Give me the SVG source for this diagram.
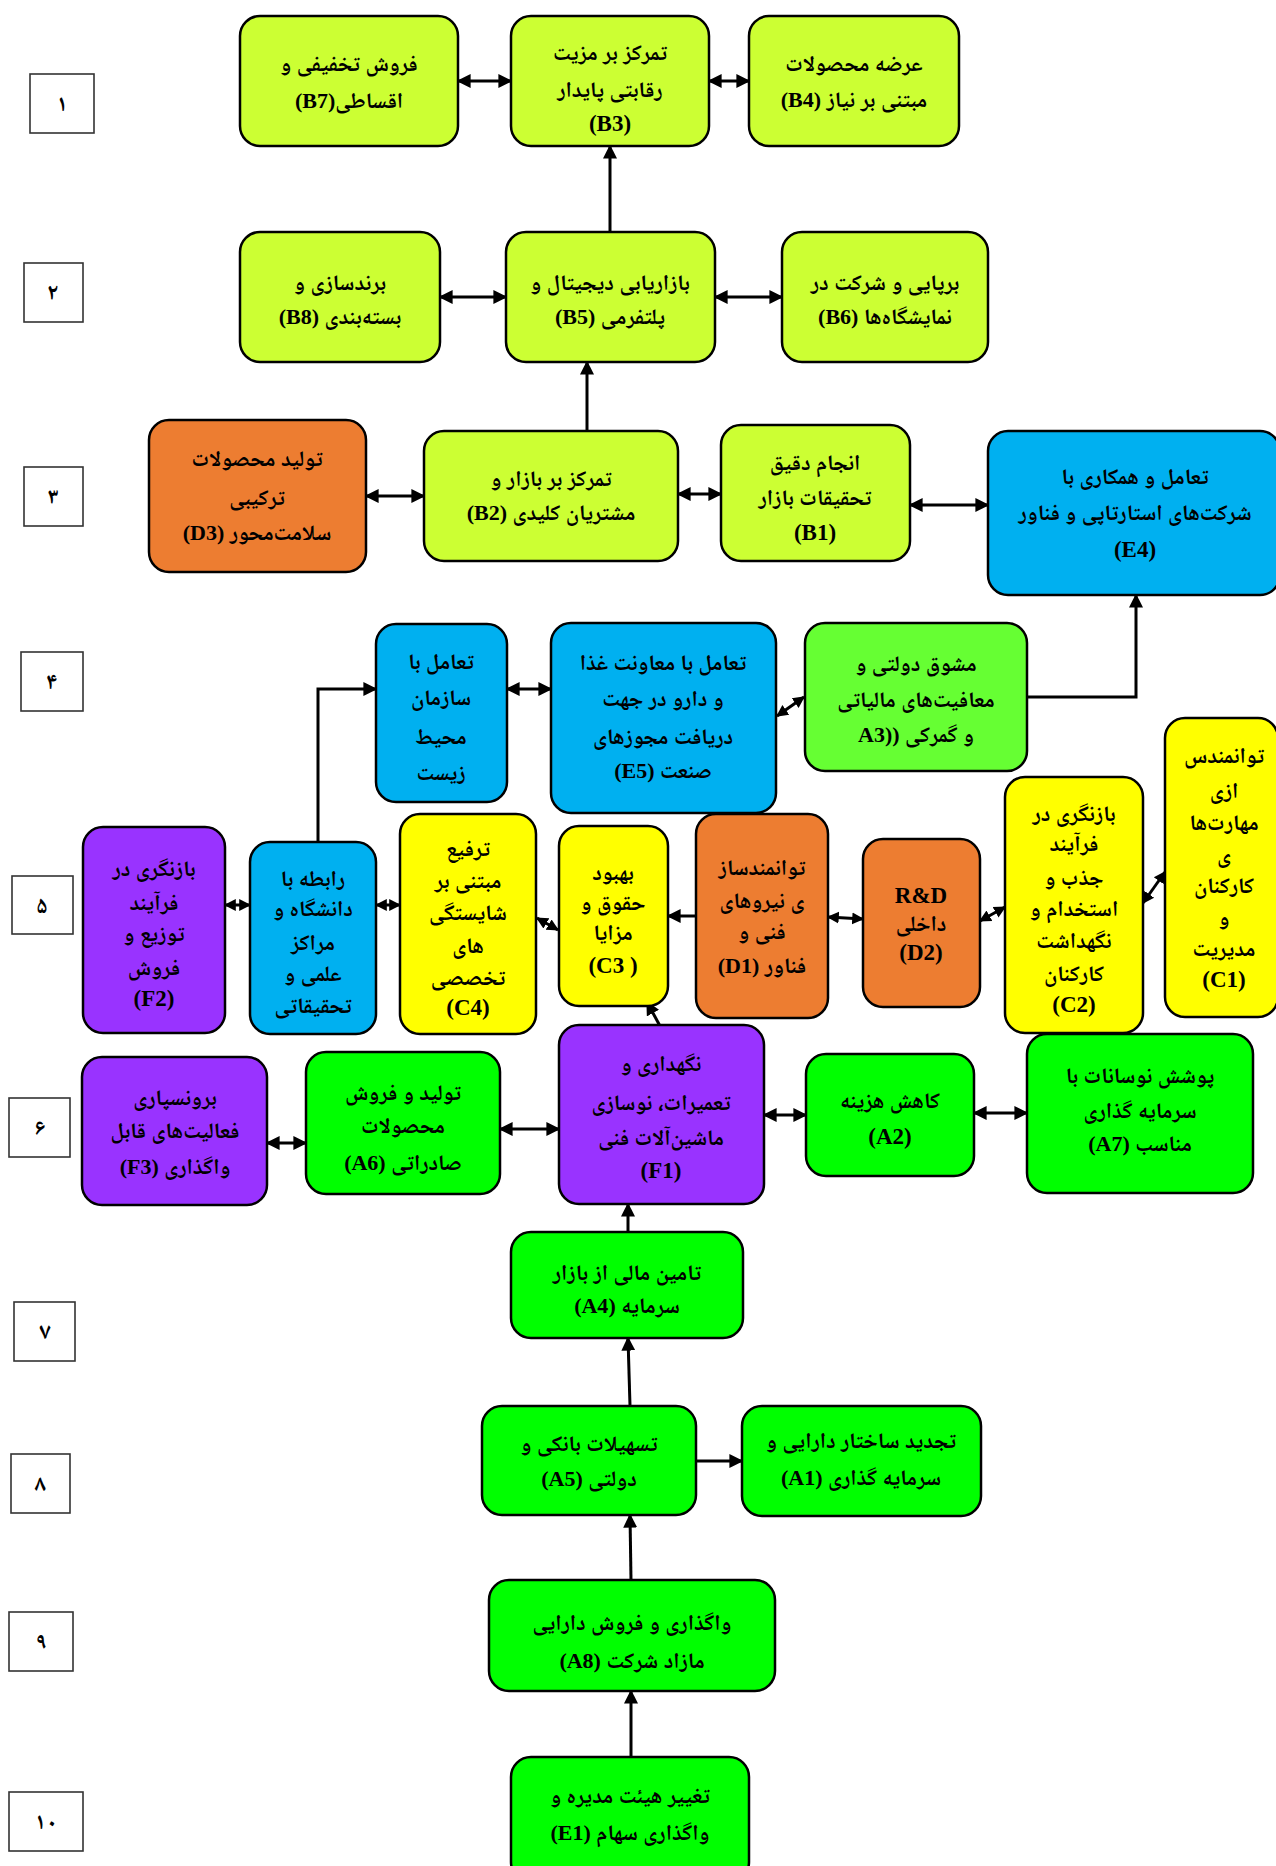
<svg xmlns="http://www.w3.org/2000/svg" width="1276" height="1866" viewBox="0 0 1276 1866">
<style>
.n rect{stroke:#000;stroke-width:2.5}
.lime{fill:#CCFF33}.org{fill:#ED7D31}.blue{fill:#00B0F0}.lg{fill:#66FF33}.grn{fill:#00FF00}.pur{fill:#9933FF}.yel{fill:#FFFF00}
text{font-family:"Liberation Serif","Noto Naskh Arabic","Noto Sans Arabic","DejaVu Sans",serif;font-weight:bold;font-size:22px;text-anchor:middle;dominant-baseline:central;fill:#000}
.r{direction:rtl}
.l{font-size:23px}
.num rect{fill:#fff;stroke:#333;stroke-width:1.6}
.num text{font-size:23px}
.c path{fill:none;stroke:#000;stroke-width:3}
.d{marker-start:url(#ah);marker-end:url(#ah)}
.s{marker-end:url(#ah)}
.ds{marker-start:url(#sm);marker-end:url(#sm)}
</style>
<defs>
<marker id="ah" viewBox="0 0 10 10" refX="9" refY="5" markerWidth="14" markerHeight="14" markerUnits="userSpaceOnUse" orient="auto-start-reverse"><path d="M0,0 L10,5 L0,10 z" fill="#000"/></marker>
<marker id="sm" viewBox="0 0 10 10" refX="9" refY="5" markerWidth="12" markerHeight="14" markerUnits="userSpaceOnUse" orient="auto-start-reverse"><path d="M0,0 L10,5 L0,10 z" fill="#000"/></marker>
</defs>
<rect width="1276" height="1866" fill="#fff"/>

<g id="levels" class="num">
<g id="lv1"><rect x="30" y="74" width="64" height="59"/><text x="62" y="103">۱</text></g>
<g id="lv2"><rect x="24" y="263" width="59" height="59"/><text x="53" y="292">۲</text></g>
<g id="lv3"><rect x="24" y="467" width="59" height="59"/><text x="53" y="496">۳</text></g>
<g id="lv4"><rect x="21" y="652" width="62" height="59"/><text x="52" y="681">۴</text></g>
<g id="lv5"><rect x="12" y="876" width="61" height="58"/><text x="42" y="905">۵</text></g>
<g id="lv6"><rect x="9" y="1098" width="61" height="59"/><text x="40" y="1127">۶</text></g>
<g id="lv7"><rect x="14" y="1302" width="61" height="59"/><text x="45" y="1331">۷</text></g>
<g id="lv8"><rect x="11" y="1454" width="59" height="59"/><text x="40" y="1483">۸</text></g>
<g id="lv9"><rect x="9" y="1612" width="64" height="59"/><text x="41" y="1641">۹</text></g>
<g id="lv10"><rect x="9" y="1792" width="74" height="59"/><text x="46" y="1821">۱۰</text></g>
</g>

<g id="connectors" class="c">
<path class="d" d="M458,81 H511"/>
<path class="d" d="M709,81 H749"/>
<path class="s" d="M610,232 V146"/>
<path class="d" d="M440,297 H506"/>
<path class="d" d="M715,297 H782"/>
<path class="s" d="M587,431 V362"/>
<path class="d" d="M366,496 H424"/>
<path class="d" d="M678,494 H721"/>
<path class="d" d="M910,505 H988"/>
<path class="s" d="M1027,697 H1136 V595"/>
<path class="s" d="M318,842 V689 H376"/>
<path class="d" d="M507,689 H551"/>
<path class="ds" d="M777,716 L804,697"/>
<path class="ds" d="M225,905 H250"/>
<path class="ds" d="M376,905 H400"/>
<path class="ds" d="M537,918 L558,930"/>
<path class="s" d="M696,916 H668"/>
<path class="ds" d="M863,919 L828,917"/>
<path class="ds" d="M1005,907 L980,921"/>
<path class="ds" d="M1165,872 L1143,903"/>
<path class="d" d="M267,1143 H306"/>
<path class="d" d="M500,1129 H559"/>
<path class="d" d="M764,1115 H806"/>
<path class="d" d="M974,1113 H1027"/>
<path class="s" d="M660,1026 L647,1002"/>
<path class="s" d="M628,1232 V1204"/>
<path class="s" d="M630,1406 L628,1338"/>
<path class="s" d="M696,1461 H742"/>
<path class="s" d="M631,1580 L630,1515"/>
<path class="s" d="M631,1757 V1691"/>
</g>

<g id="B7" class="n"><rect class="lime" x="240" y="16" width="218" height="130" rx="20"/><text class="r" x="349" y="63">فروش تخفیفی و</text><text class="r" x="349" y="100">اقساطی(B7)</text></g>
<g id="B3" class="n"><rect class="lime" x="511" y="16" width="198" height="130" rx="20"/><text class="r" x="610" y="52">تمرکز  بر مزیت</text><text class="r" x="610" y="89">رقابتی پایدار</text><text class="l" x="610" y="123">(B3)</text></g>
<g id="B4" class="n"><rect class="lime" x="749" y="16" width="210" height="130" rx="20"/><text class="r" x="854" y="63">عرضه محصولات</text><text class="r" x="854" y="99">مبتنی بر نیاز (B4)</text></g>
<g id="B8" class="n"><rect class="lime" x="240" y="232" width="200" height="130" rx="20"/><text class="r" x="340" y="282">برندسازی و</text><text class="r" x="340" y="316">بسته‌بندی (B8)</text></g>
<g id="B5" class="n"><rect class="lime" x="506" y="232" width="209" height="130" rx="20"/><text class="r" x="610" y="282">بازاریابی دیجیتال و</text><text class="r" x="610" y="316">پلتفرمی (B5)</text></g>
<g id="B6" class="n"><rect class="lime" x="782" y="232" width="206" height="130" rx="20"/><text class="r" x="885" y="282">برپایی و شرکت در</text><text class="r" x="885" y="316">نمایشگاه‌ها (B6)</text></g>
<g id="D3" class="n"><rect class="org" x="149" y="420" width="217" height="152" rx="20"/><text class="r" x="257" y="458">تولید محصولات</text><text class="r" x="257" y="497">ترکیبی</text><text class="r" x="257" y="532">سلامت‌محور (D3)</text></g>
<g id="B2" class="n"><rect class="lime" x="424" y="431" width="254" height="130" rx="20"/><text class="r" x="551" y="478">تمرکز بر بازار و</text><text class="r" x="551" y="512">مشتریان کلیدی (B2)</text></g>
<g id="B1" class="n"><rect class="lime" x="721" y="425" width="189" height="136" rx="20"/><text class="r" x="815" y="462">انجام دقیق</text><text class="r" x="815" y="497">تحقیقات بازار</text><text class="l" x="815" y="532">(B1)</text></g>
<g id="E4" class="n"><rect class="blue" x="988" y="431" width="292" height="164" rx="20"/><text class="r" x="1135" y="476">تعامل و همکاری با</text><text class="r" x="1135" y="512">شرکت‌های استارتاپی و فناور</text><text class="l" x="1135" y="549">(E4)</text></g>
<g id="Env" class="n"><rect class="blue" x="376" y="624" width="131" height="178" rx="20"/><text class="r" x="441" y="661">تعامل با</text><text class="r" x="441" y="697">سازمان</text><text class="r" x="441" y="736">محیط</text><text class="r" x="441" y="772">زیست</text></g>
<g id="E5" class="n"><rect class="blue" x="551" y="623" width="225" height="190" rx="20"/><text class="r" x="663" y="662">تعامل با معاونت غذا</text><text class="r" x="663" y="698">و دارو در جهت</text><text class="r" x="663" y="736">دریافت مجوزهای</text><text class="r" x="663" y="770">صنعت (E5)</text></g>
<g id="A3" class="n"><rect class="lg" x="805" y="623" width="222" height="148" rx="20"/><text class="r" x="916" y="663">مشوق دولتی و</text><text class="r" x="916" y="699">معافیت‌های مالیاتی</text><text class="r" x="916" y="734">و گمرکی ((A3</text></g>
<g id="F2" class="n"><rect class="pur" x="83" y="827" width="142" height="206" rx="20"/><text class="r" x="154" y="868">بازنگری در</text><text class="r" x="154" y="902">فرآیند</text><text class="r" x="154" y="933">توزیع و</text><text class="r" x="154" y="967">فروش</text><text class="l" x="154" y="998">(F2)</text></g>
<g id="Univ" class="n"><rect class="blue" x="250" y="842" width="126" height="192" rx="20"/><text class="r" x="313" y="878">رابطه با</text><text class="r" x="313" y="908">دانشگاه و</text><text class="r" x="313" y="942">مراکز</text><text class="r" x="313" y="973">علمی و</text><text class="r" x="313" y="1005">تحقیقاتی</text></g>
<g id="C4" class="n"><rect class="yel" x="400" y="814" width="136" height="220" rx="20"/><text class="r" x="468" y="848">ترفیع</text><text class="r" x="468" y="880">مبتنی بر</text><text class="r" x="468" y="912">شایستگی</text><text class="r" x="468" y="945">های</text><text class="r" x="468" y="977">تخصصی</text><text class="l" x="468" y="1007">(C4)</text></g>
<g id="C3" class="n"><rect class="yel" x="559" y="826" width="109" height="180" rx="20"/><text class="r" x="613" y="872">بهبود</text><text class="r" x="613" y="902">حقوق و</text><text class="r" x="613" y="932">مزایا</text><text class="l" x="613" y="965">(C3 )</text></g>
<g id="D1" class="n"><rect class="org" x="696" y="814" width="132" height="204" rx="20"/><text class="r" x="762" y="867">توانمندساز</text><text class="r" x="762" y="900">ی نیروهای</text><text class="r" x="762" y="931">فنی و</text><text class="r" x="762" y="965">فناور (D1)</text></g>
<g id="D2" class="n"><rect class="org" x="863" y="839" width="117" height="168" rx="20"/><text class="l" x="921" y="895">R&amp;D</text><text class="r" x="921" y="923">داخلی</text><text class="l" x="921" y="952">(D2)</text></g>
<g id="C2" class="n"><rect class="yel" x="1005" y="777" width="138" height="256" rx="20"/><text class="r" x="1074" y="813">بازنگری در</text><text class="r" x="1074" y="843">فرآیند</text><text class="r" x="1074" y="877">جذب و</text><text class="r" x="1074" y="908">استخدام و</text><text class="r" x="1074" y="940">نگهداشت</text><text class="r" x="1074" y="973">کارکنان</text><text class="l" x="1074" y="1004">(C2)</text></g>
<g id="C1" class="n"><rect class="yel" x="1165" y="718" width="113" height="299" rx="20"/><text class="r" x="1224" y="755">توانمندس</text><text class="r" x="1224" y="790">ازی</text><text class="r" x="1224" y="822">مهارت‌ها</text><text class="r" x="1224" y="854">ی</text><text class="r" x="1224" y="885">کارکنان</text><text class="r" x="1224" y="917">و</text><text class="r" x="1224" y="948">مدیریت</text><text class="l" x="1224" y="979">(C1)</text></g>
<g id="F3" class="n"><rect class="pur" x="82" y="1057" width="185" height="148" rx="20"/><text class="r" x="175" y="1097">برونسپاری</text><text class="r" x="175" y="1130">فعالیت‌های قابل</text><text class="r" x="175" y="1166">واگذاری (F3)</text></g>
<g id="A6" class="n"><rect class="grn" x="306" y="1052" width="194" height="142" rx="20"/><text class="r" x="403" y="1092">تولید و فروش</text><text class="r" x="403" y="1125">محصولات</text><text class="r" x="403" y="1162">صادراتی (A6)</text></g>
<g id="F1" class="n"><rect class="pur" x="559" y="1025" width="205" height="179" rx="20"/><text class="r" x="661" y="1063">نگهداری و</text><text class="r" x="661" y="1102">تعمیرات، نوسازی</text><text class="r" x="661" y="1137">ماشین‌آلات فنی</text><text class="l" x="661" y="1170">(F1)</text></g>
<g id="A2" class="n"><rect class="grn" x="806" y="1054" width="168" height="122" rx="20"/><text class="r" x="890" y="1100">کاهش هزینه</text><text class="l" x="890" y="1136">(A2)</text></g>
<g id="A7" class="n"><rect class="grn" x="1027" y="1034" width="226" height="159" rx="20"/><text class="r" x="1140" y="1075">پوشش نوسانات با</text><text class="r" x="1140" y="1110">سرمایه گذاری</text><text class="r" x="1140" y="1143">مناسب (A7)</text></g>
<g id="A4" class="n"><rect class="grn" x="511" y="1232" width="232" height="106" rx="20"/><text class="r" x="627" y="1272">تامین مالی از بازار</text><text class="r" x="627" y="1305">سرمایه (A4)</text></g>
<g id="A5" class="n"><rect class="grn" x="482" y="1406" width="214" height="109" rx="20"/><text class="r" x="589" y="1443">تسهیلات بانکی و</text><text class="r" x="589" y="1478">دولتی (A5)</text></g>
<g id="A1" class="n"><rect class="grn" x="742" y="1406" width="239" height="110" rx="20"/><text class="r" x="861" y="1440">تجدید ساختار دارایی و</text><text class="r" x="861" y="1477">سرمایه گذاری (A1)</text></g>
<g id="A8" class="n"><rect class="grn" x="489" y="1580" width="286" height="111" rx="20"/><text class="r" x="632" y="1622">واگذاری و فروش دارایی</text><text class="r" x="632" y="1660">مازاد شرکت (A8)</text></g>
<g id="E1" class="n"><rect class="grn" x="511" y="1757" width="238" height="125" rx="20"/><text class="r" x="630" y="1795">تغییر هیئت مدیره و</text><text class="r" x="630" y="1832">واگذاری سهام (E1)</text></g>
</svg>
